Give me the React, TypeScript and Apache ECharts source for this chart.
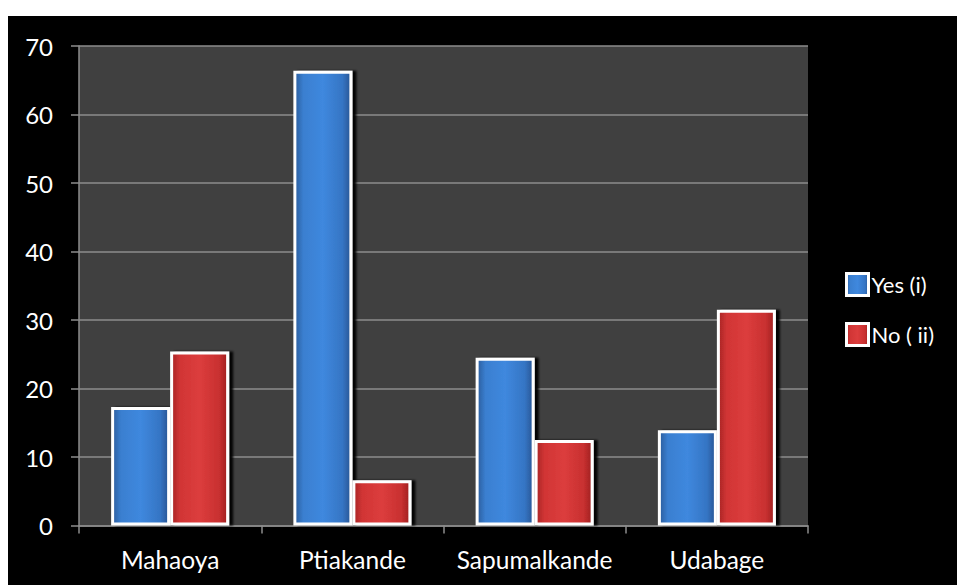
import React, { useEffect, useRef } from "react";
import * as echarts from "echarts";

const categories = ["Mahaoya", "Ptiakande", "Sapumalkande", "Udabage"];
const yesValues = [17.3, 66.4, 24.5, 13.9];
const noValues = [25.4, 6.6, 12.5, 31.5];
const seriesNames = ["Yes (i)", "No ( ii)"];
const yTicks = { min: 0, max: 70, interval: 10 };

const FONT = "Lato, 'Noto Sans', sans-serif";

export default function App() {
  const ref = useRef<HTMLDivElement>(null);
  useEffect(() => {
    if (!ref.current) return;
    const chart = echarts.init(ref.current, undefined, { renderer: "svg" });
    const blue = new echarts.graphic.LinearGradient(0, 0, 1, 0, [
      { offset: 0, color: "#2b5c9c" },
      { offset: 0.15, color: "#3a7fd0" },
      { offset: 0.5, color: "#3f88de" },
      { offset: 0.85, color: "#3575c4" },
      { offset: 1, color: "#285594" },
    ]);
    const red = new echarts.graphic.LinearGradient(0, 0, 1, 0, [
      { offset: 0, color: "#a82424" },
      { offset: 0.15, color: "#d13535" },
      { offset: 0.5, color: "#dc3d3d" },
      { offset: 0.85, color: "#c83030" },
      { offset: 1, color: "#9e2020" },
    ]);
    const barStyle = (c: any) => ({
      color: c,
      borderColor: "#ffffff",
      borderWidth: 3,
      shadowColor: "rgba(0,0,0,0.95)",
      shadowOffsetX: 4,
      shadowOffsetY: 0,
      shadowBlur: 2,
    });
    chart.setOption({
      animation: false,
      backgroundColor: "transparent",
      textStyle: { fontFamily: FONT },
      grid: {
        left: 79,
        right: 149,
        top: 46,
        bottom: 59.5,
        show: true,
        backgroundColor: "#404040",
        borderWidth: 0,
      },
      legend: {
        orient: "vertical",
        left: 840,
        top: 267,
        itemWidth: 22,
        itemHeight: 22,
        itemGap: 25,
        icon: "rect",
        itemStyle: { borderColor: "#ffffff", borderWidth: 3, shadowBlur: 0, shadowOffsetX: 0 },
        textStyle: { color: "#ffffff", fontSize: 22, fontFamily: FONT, padding: [0, 0, 0, -2] },
        data: seriesNames,
      },
      xAxis: {
        type: "category",
        data: categories,
        axisLine: { show: true, lineStyle: { color: "#8c8c8c", width: 1.5 } },
        axisTick: { show: true, length: 8, lineStyle: { color: "#8c8c8c", width: 1.5 } },
        axisLabel: {
          color: "#ffffff",
          fontSize: 24.5,
          fontFamily: FONT,
          margin: 21,
          interval: 0,
          hideOverlap: false,
        },
        splitLine: { show: false },
      },
      yAxis: {
        type: "value",
        min: yTicks.min,
        max: yTicks.max,
        interval: yTicks.interval,
        axisLine: { show: true, lineStyle: { color: "#8c8c8c", width: 1.5 } },
        axisTick: { show: true, length: 8, lineStyle: { color: "#8c8c8c", width: 1.5 } },
        axisLabel: { color: "#ffffff", fontSize: 24, fontFamily: FONT, margin: 26 },
        splitLine: { show: true, lineStyle: { color: "#8c8c8c", width: 1.5 } },
      },
      series: [
        {
          name: seriesNames[0],
          type: "bar",
          data: yesValues,
          barWidth: 59,
          barGap: "0%",
          itemStyle: barStyle(blue),
        },
        {
          name: seriesNames[1],
          type: "bar",
          data: noValues,
          barWidth: 59,
          barGap: "0%",
          itemStyle: barStyle(red),
        },
      ],
    });
    return () => chart.dispose();
  }, []);
  return (
    <div
      style={{
        position: "fixed",
        left: 0,
        top: 0,
        width: 957,
        height: 585,
        background: "#ffffff",
      }}
    >
      <div
        style={{
          position: "absolute",
          left: 8,
          top: 16,
          width: 949,
          height: 569,
          background: "#000000",
        }}
      />
      <div
        ref={ref}
        style={{ position: "absolute", left: 0, top: 0, width: 957, height: 585 }}
      />
    </div>
  );
}
